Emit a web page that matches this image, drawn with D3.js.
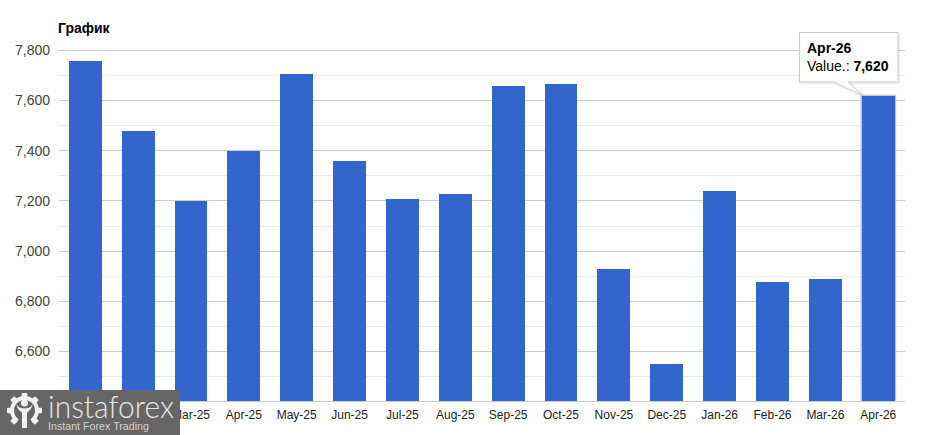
<!DOCTYPE html>
<html>
<head>
<meta charset="utf-8">
<script src="https://cdnjs.cloudflare.com/ajax/libs/d3/7.8.5/d3.min.js"></script>
<style>
html,body{margin:0;padding:0;background:#fff;}
svg{display:block;font-family:"Liberation Sans",Arial,sans-serif;}
</style>
</head>
<body>
<svg id="chart" width="933" height="435"></svg>
<script>
const months = ["Jan-25","Feb-25","Mar-25","Apr-25","May-25","Jun-25","Jul-25","Aug-25","Sep-25","Oct-25","Nov-25","Dec-25","Jan-26","Feb-26","Mar-26","Apr-26"];
const values = [7758,7480,7200,7400,7706,7360,7208,7228,7658,7666,6928,6550,7240,6878,6890,7620];
const majorTicks = [6600,6800,7000,7200,7400,7600,7800];
const minorTicks = [6500,6700,6900,7100,7300,7500,7700];
const chartTitle = "График";
const activeIndex = 15;

const svg = d3.select("#chart");
const plotLeft = 58.5, plotRight = 905, plotTop = 50.5, plotBottom = 401.5;

const x = d3.scaleBand().domain(months).range([plotLeft, plotRight]).paddingInner(0.378).paddingOuter(0.195);
const y = d3.scaleLinear().domain([6400, 7800]).range([plotBottom, plotTop]);
const gridY = d => Math.floor(y(d)) + 0.5;

// Soft shadow for the tooltip box
const shadow = svg.append("defs").append("filter").attr("id", "tip-shadow")
  .attr("x", "-10%").attr("y", "-10%").attr("width", "125%").attr("height", "125%");
shadow.append("feDropShadow").attr("dx", 1).attr("dy", 1).attr("stdDeviation", 1.2)
  .attr("flood-color", "#000").attr("flood-opacity", 0.12);

// Gridlines
svg.append("g").selectAll("line").data(minorTicks).join("line")
  .attr("x1", plotLeft).attr("x2", plotRight)
  .attr("y1", gridY).attr("y2", gridY)
  .attr("stroke", "#ebebeb");
svg.append("g").selectAll("line").data(majorTicks).join("line")
  .attr("x1", plotLeft).attr("x2", plotRight)
  .attr("y1", gridY).attr("y2", gridY)
  .attr("stroke", "#cccccc");

// Y axis labels
const fmt = d3.format(",");
svg.append("g").selectAll("text").data(majorTicks).join("text")
  .attr("x", 50).attr("y", d => y(d) + 4.8)
  .attr("text-anchor", "end").attr("font-size", 14).attr("fill", "#444444")
  .text(fmt);

// Highlight behind the hovered bar
svg.append("rect")
  .attr("x", x(months[activeIndex]) - 1.5)
  .attr("y", y(values[activeIndex]) - 1)
  .attr("width", x.bandwidth() + 3)
  .attr("height", plotBottom - y(values[activeIndex]) + 1)
  .attr("fill", "#c8c8c8");

// Bars
svg.append("g").attr("shape-rendering", "crispEdges").selectAll("rect").data(values).join("rect")
  .attr("x", (d, i) => x(months[i]))
  .attr("y", d => y(d))
  .attr("width", x.bandwidth())
  .attr("height", d => plotBottom - y(d))
  .attr("fill", "#3366cc");

// Baseline
svg.append("line").attr("x1", plotLeft).attr("x2", plotRight).attr("y1", plotBottom).attr("y2", plotBottom).attr("stroke", "#cccccc");

// Category labels
svg.append("g").selectAll("text").data(months).join("text")
  .attr("x", d => x(d) + x.bandwidth() / 2).attr("y", 419)
  .attr("text-anchor", "middle").attr("font-size", 12).attr("fill", "#222222")
  .text(d => d);

// Title
svg.append("text").attr("x", 58).attr("y", 33)
  .attr("font-size", 14).attr("font-weight", "bold").attr("fill", "#000")
  .text(chartTitle);

// Tooltip with pointer to the hovered bar
const tipX = 799.5, tipY = 32.5, tipW = 98.5, tipH = 49.5;
const barTopX = x(months[activeIndex]) + 1, barTopY = y(values[activeIndex]);
const tipPath = d3.path();
tipPath.moveTo(tipX, tipY);
tipPath.lineTo(tipX + tipW, tipY);
tipPath.lineTo(tipX + tipW, tipY + tipH);
tipPath.lineTo(848, tipY + tipH);
tipPath.lineTo(barTopX, barTopY);
tipPath.lineTo(834, tipY + tipH);
tipPath.lineTo(tipX, tipY + tipH);
tipPath.closePath();
svg.append("path").attr("d", tipPath.toString())
  .attr("fill", "#fff").attr("stroke", "#cccccc").attr("stroke-width", 1)
  .attr("filter", "url(#tip-shadow)");
svg.append("text").attr("x", 807).attr("y", 53)
  .attr("font-size", 14).attr("font-weight", "bold").attr("fill", "#000")
  .text(months[activeIndex]);
const tipLine = svg.append("text").attr("x", 807).attr("y", 71).attr("font-size", 14).attr("fill", "#000");
tipLine.append("tspan").text("Value.: ");
tipLine.append("tspan").attr("font-weight", "bold").text(fmt(values[activeIndex]));

// Brand badge in the lower left corner
const badge = svg.append("g");
badge.append("rect").attr("x", 0).attr("y", 390).attr("width", 180).attr("height", 45).attr("fill", "#666666");
const logoInk = "#f0f0f0";
const gear = badge.append("g").attr("transform", "translate(24.5,410.5)");
const ringArc = d3.arc().innerRadius(10.5).outerRadius(14.5)
  .startAngle(-2.55).endAngle(2.55);
gear.append("path").attr("d", ringArc()).attr("fill", logoInk);
gear.selectAll("rect").data([-135, -90, -45, 0, 45, 90, 135]).join("rect")
  .attr("x", -2.8).attr("y", -17.5).attr("width", 5.6).attr("height", 5).attr("rx", 0.8)
  .attr("fill", logoInk).attr("transform", d => `rotate(${d})`);
gear.append("circle").attr("cy", -7.5).attr("r", 3.6).attr("fill", logoInk);
gear.append("path")
  .attr("d", "M-8,-6 C-7,-1 -4,1 -2.5,2 L-2.5,17.5 L2.5,17.5 L2.5,2 C4,1 7,-1 8,-6 C6,-3 3,-2 0,-2 C-3,-2 -6,-3 -8,-6 Z")
  .attr("fill", logoInk);
badge.append("text").attr("x", 48).attr("y", 418)
  .attr("font-family", "Lato,'Open Sans',sans-serif").attr("font-weight", 300)
  .attr("font-size", 32).attr("fill", "#e6e6e6")
  .attr("textLength", 126).attr("lengthAdjust", "spacingAndGlyphs").text("instaforex");
badge.append("text").attr("x", 48).attr("y", 430)
  .attr("font-size", 11).attr("fill", "#d0d0d0")
  .attr("textLength", 101).attr("lengthAdjust", "spacingAndGlyphs").text("Instant Forex Trading");
</script>
</body>
</html>
